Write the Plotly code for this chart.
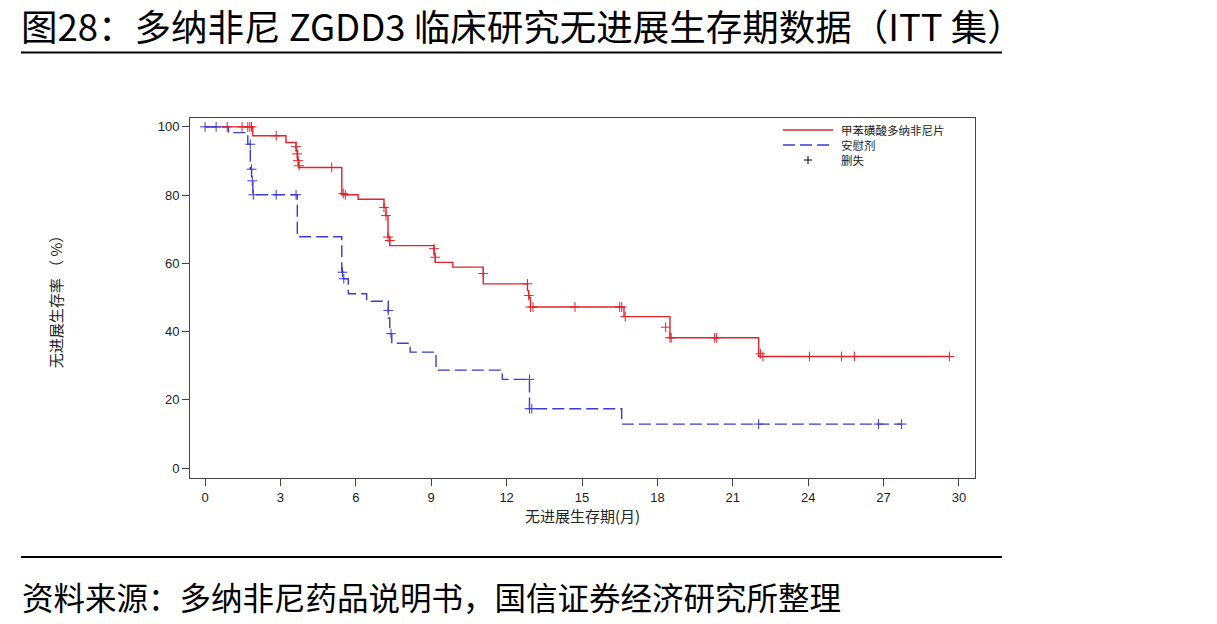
import plotly.graph_objects as go

# ---- data ----
drug_t = [0, 1.9, 3.22, 3.62, 3.68, 3.72, 5.44, 6.09, 7.12, 7.2, 7.28, 7.35, 9.11, 9.16, 9.86, 11.07, 12.83, 12.88, 12.95, 16.67, 18.5, 22.03, 29.62]
drug_s = [100, 97.4, 95.4, 93.0, 90.5, 88.1, 80.1, 78.8, 76.4, 74.0, 67.7, 65.2, 62.5, 60.3, 58.9, 54.0, 52.0, 50.0, 47.2, 44.4, 38.2, 32.7, 32.7]
drug_cens_t = [0.88, 1.47, 1.7, 1.78, 1.85, 2.83, 3.62, 3.66, 3.7, 3.74, 5.04, 5.5, 5.58, 7.12, 7.2, 7.28, 7.35, 9.11, 9.16, 11.07, 12.83, 12.88, 12.95, 13.05, 14.72, 16.5, 16.58, 16.72, 18.33, 18.5, 18.55, 20.28, 20.36, 22.1, 22.2, 24.05, 25.33, 25.84, 29.62]
drug_cens_s = [100, 100, 100, 100, 100, 97.4, 94.2, 92.1, 90.1, 88.6, 88.1, 80.5, 80.1, 76.4, 74.0, 67.7, 66.7, 64.3, 61.8, 57.0, 54.0, 50.6, 47.2, 47.2, 47.2, 47.2, 47.2, 44.4, 41.3, 38.2, 38.2, 38.2, 38.2, 33.5, 32.7, 32.7, 32.7, 32.7, 32.7]

plac_t = [0, 0.93, 1.7, 1.8, 1.85, 1.9, 3.67, 5.44, 5.5, 5.7, 6.43, 7.29, 7.35, 7.43, 8.16, 9.19, 11.83, 12.91, 16.58, 27.72]
plac_s = [100, 98.3, 94.9, 87.6, 84.2, 80.1, 67.8, 57.4, 55.5, 51.1, 48.9, 44.0, 39.4, 36.6, 34.0, 28.7, 26.0, 17.4, 12.9, 12.9]
plac_cens_t = [0, 0.44, 1.8, 1.85, 1.88, 1.92, 2.83, 3.62, 5.47, 5.52, 7.29, 7.4, 12.91, 12.91, 13.0, 22.03, 26.8, 27.72]
plac_cens_s = [100, 100, 94.9, 87.6, 84.2, 80.1, 80.1, 80.1, 57.4, 55.5, 46.2, 39.4, 26.0, 17.4, 17.4, 12.9, 12.9, 12.9]

x_ticks = [0, 3, 6, 9, 12, 15, 18, 21, 24, 27, 30]
y_ticks = [0, 20, 40, 60, 80, 100]

names = ["甲苯磺酸多纳非尼片", "安慰剂", "删失"]
title_text = "图28：多纳非尼 ZGDD3 临床研究无进展生存期数据（ITT 集）"
source_text = "资料来源：多纳非尼药品说明书，国信证券经济研究所整理"
x_title = "无进展生存期(月)"
y_title = "无进展生存率 （ %）"

RED = "#e2222c"
BLUE = "#3b3bd6"
CJK = "Noto Sans CJK SC"
NUM = "Liberation Sans, Arial, sans-serif"

# plot-area geometry in pixels (for paper-coordinate helpers)
L, R, T, B = 190, 975, 118, 478
def px(x):
    return (x - L) / (R - L)
def py(y):
    return (B - y) / (B - T)

fig = go.Figure()
fig.add_trace(go.Scatter(x=drug_t, y=drug_s, mode="lines", line=dict(color=RED, width=1.4, shape="hv"),
                         name=names[0], showlegend=False))
fig.add_trace(go.Scatter(x=plac_t, y=plac_s, mode="lines", line=dict(color=BLUE, width=1.4, shape="hv", dash="12px,5px"),
                         name=names[1], showlegend=False))
fig.add_trace(go.Scatter(x=drug_cens_t, y=drug_cens_s, mode="markers",
                         marker=dict(symbol="cross-thin", size=7, line=dict(color=RED, width=1)),
                         showlegend=False, hoverinfo="skip"))
fig.add_trace(go.Scatter(x=plac_cens_t, y=plac_cens_s, mode="markers",
                         marker=dict(symbol="cross-thin", size=7, line=dict(color=BLUE, width=1)),
                         showlegend=False, hoverinfo="skip"))

fig.update_layout(
    width=1217, height=624,
    margin=dict(l=L, r=1217 - R, t=T, b=624 - B),
    paper_bgcolor="white", plot_bgcolor="white",
    showlegend=False,
    xaxis=dict(range=[-0.6, 30.64], tickvals=x_ticks, ticktext=[str(v) for v in x_ticks],
               showgrid=False, zeroline=False, showline=True, linecolor="#444", linewidth=1, mirror=True,
               ticks="outside", ticklen=7, tickcolor="#444",
               tickfont=dict(family=NUM, size=13, color="#222"),
               title=dict(text=x_title, font=dict(family=CJK, size=15, color="#222"), standoff=5)),
    yaxis=dict(range=[-2.9, 102.6], tickvals=y_ticks, ticktext=[str(v) for v in y_ticks],
               showgrid=False, zeroline=False, showline=True, linecolor="#444", linewidth=1, mirror=True,
               ticks="outside", ticklen=7, tickcolor="#444",
               tickfont=dict(family=NUM, size=13, color="#222"),
               title=dict(text=y_title, font=dict(family=CJK, size=15, color="#222"), standoff=91)),
)

# manual legend (inside the plot frame, top right): one text block, one row per entry
legend_y = [130, 145, 160]
fig.add_shape(type="line", xref="paper", yref="paper", x0=px(783), x1=px(833), y0=py(legend_y[0]), y1=py(legend_y[0]),
              line=dict(color=RED, width=1.4))
fig.add_shape(type="line", xref="paper", yref="paper", x0=px(783), x1=px(833), y0=py(legend_y[1]), y1=py(legend_y[1]),
              line=dict(color=BLUE, width=1.4, dash="12px,5px"))
fig.add_shape(type="line", xref="paper", yref="paper", x0=px(804), x1=px(812), y0=py(legend_y[2]), y1=py(legend_y[2]),
              line=dict(color="black", width=1))
fig.add_shape(type="line", xref="paper", yref="paper", x0=px(808), x1=px(808), y0=py(legend_y[2] - 4), y1=py(legend_y[2] + 4),
              line=dict(color="black", width=1))
fig.add_annotation(text="<br>".join(names), xref="paper", yref="paper", x=px(840), y=py((legend_y[0] + legend_y[2]) / 2),
                   xanchor="left", yanchor="middle", align="left",
                   showarrow=False, font=dict(family=CJK, size=11.5, color="#222"), borderpad=0)

# title, source and rules
fig.add_annotation(text=title_text, xref="paper", yref="paper", x=px(20), y=py(25),
                   xanchor="left", yanchor="middle", showarrow=False,
                   font=dict(family=CJK, size=36.5, color="black"), borderpad=0)
fig.add_annotation(text=source_text, xref="paper", yref="paper", x=px(20), y=py(596),
                   xanchor="left", yanchor="middle", showarrow=False,
                   font=dict(family=CJK, size=31.5, color="black"))
fig.add_shape(type="line", xref="paper", yref="paper", x0=px(21), x1=px(1002),
              y0=py(52.5), y1=py(52.5), line=dict(color="black", width=2))
fig.add_shape(type="line", xref="paper", yref="paper", x0=px(21), x1=px(1002),
              y0=py(557), y1=py(557), line=dict(color="black", width=2))

fig.write_html("out.html")
